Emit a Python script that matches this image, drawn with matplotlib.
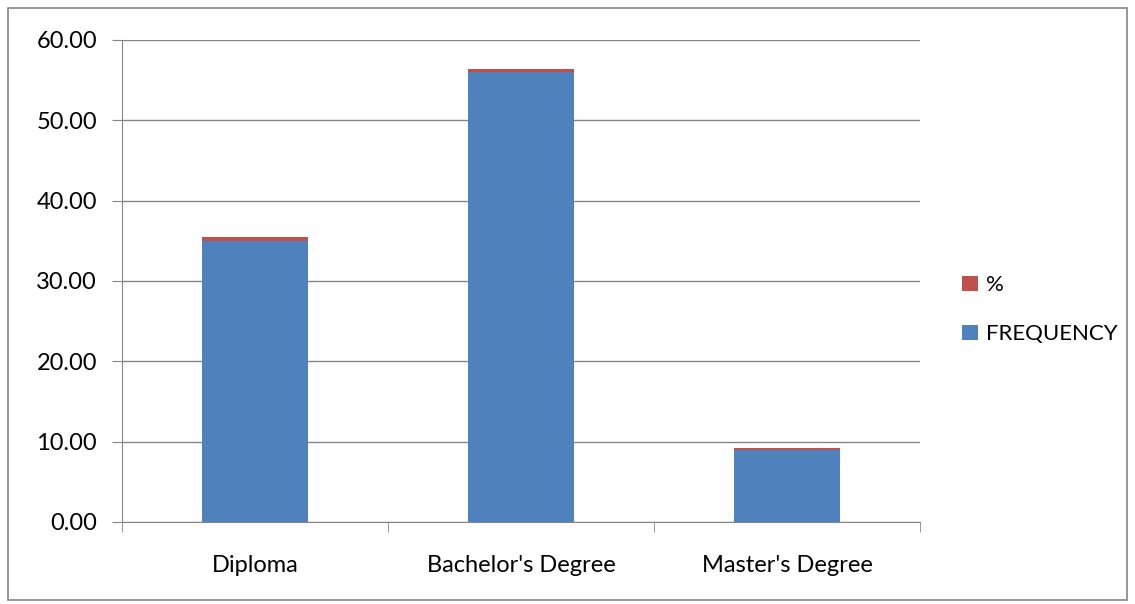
import matplotlib
matplotlib.use("Agg")
import matplotlib.pyplot as plt
from matplotlib.patches import Rectangle

categories = ["Diploma", "Bachelor's Degree", "Master's Degree"]
frequency = [35.0, 56.0, 9.0]
percent = [0.45, 0.40, 0.20]
y_ticks = [0, 10, 20, 30, 40, 50, 60]

plt.rcParams["font.family"] = ["Lato", "DejaVu Sans"]

fig = plt.figure(figsize=(11.35, 6.04), dpi=100)
ax = fig.add_axes([0.1075, 0.1358, 0.7031, 0.798])

x = list(range(len(categories)))
ax.bar(x, frequency, width=0.4, color="#4F81BD", label="FREQUENCY")
ax.bar(x, percent, width=0.4, bottom=frequency, color="#C0504D", label="%")

ax.set_xlim(-0.5, 2.5)
ax.set_ylim(0, 60)
ax.set_yticks(y_ticks)
ax.set_yticklabels([f"{v:.2f}" for v in y_ticks], fontsize=17)
ax.yaxis.grid(True, color="#868686", linewidth=1)
ax.set_axisbelow(True)

ax.set_xticks(x)
ax.set_xticklabels(categories, fontsize=17)
ax.tick_params(axis="x", length=0, pad=24)
ax.set_xticks([-0.5, 0.5, 1.5, 2.5], minor=True)
ax.tick_params(axis="x", which="minor", length=7, color="#868686", direction="out")
ax.tick_params(axis="y", length=7, color="#868686", pad=11)

for s in ["top", "right"]:
    ax.spines[s].set_visible(False)
for s in ["left", "bottom"]:
    ax.spines[s].set_color("#868686")

handles, labels = ax.get_legend_handles_labels()
ax.legend(handles[::-1], labels[::-1], loc="center left", bbox_to_anchor=(1.028, 0.44),
          frameon=False, fontsize=16, handlelength=0.7, handleheight=0.7,
          handletextpad=0.35, labelspacing=1.3)

fig.patches.append(Rectangle((0.007, 0.007), 0.986, 0.98, transform=fig.transFigure,
                             fill=False, edgecolor="#868686", linewidth=1.2))

fig.savefig("out.png", dpi=100)
